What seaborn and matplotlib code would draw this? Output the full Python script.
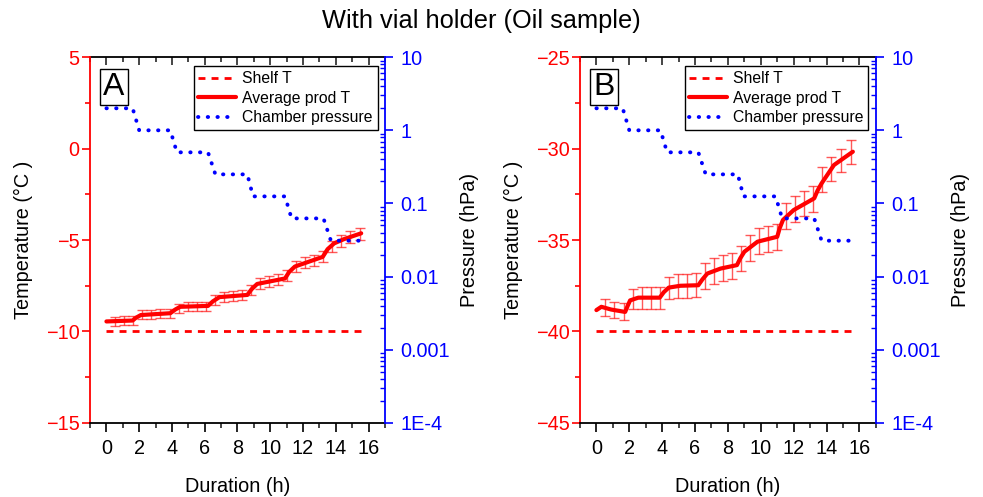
import numpy as np
import pandas as pd
import matplotlib
matplotlib.use("Agg")
import matplotlib.pyplot as plt
import matplotlib.ticker as mticker
import seaborn as sns

# ---- data ----
shelf_t = [0.0, 15.6]
shelf_A = [-10.0, -10.0]
shelf_B = [-40.0, -40.0]

# chamber pressure set points (hPa), same for both runs
press_t = [0.0, 1.6, 2.0, 3.9, 4.3, 6.2, 6.65, 8.6, 8.95, 10.9, 11.3, 13.25, 13.7, 15.6]
press_p = [2.0, 2.0, 1.0, 1.0, 0.5, 0.5, 0.25, 0.25, 0.125, 0.125, 0.0625, 0.0625, 0.031, 0.031]

# average product temperature (line)
prodA_t = [0.0, 1.6, 1.8, 2.1, 3.9, 4.2, 4.5, 6.2, 6.5, 6.9, 8.6, 8.85, 9.2, 10.9, 11.15, 11.5,
           13.2, 13.5, 13.9, 14.5, 15.55]
prodA_T = [-9.45, -9.40, -9.25, -9.10, -9.00, -8.80, -8.65, -8.60, -8.35, -8.12, -8.00, -7.70, -7.40,
           -7.10, -6.75, -6.45, -5.92, -5.50, -5.18, -4.95, -4.63]

prodB_t = [0.0, 0.3, 0.9, 1.75, 1.9, 2.05, 2.55, 3.85, 4.1, 4.4, 5.1, 6.2, 6.45, 6.75, 7.55, 8.55,
           8.75, 9.0, 9.8, 11.0, 11.15, 11.35, 12.0, 13.25, 13.45, 13.7, 14.45, 15.0, 15.6]
prodB_T = [-38.83, -38.65, -38.80, -38.93, -38.60, -38.30, -38.15, -38.15, -37.85, -37.60, -37.50,
           -37.47, -37.15, -36.83, -36.56, -36.37, -36.00, -35.64, -35.09, -34.82, -34.35, -33.90,
           -33.36, -32.72, -32.30, -31.90, -30.90, -30.55, -30.17]

# error bars (mean +- sd) at the sampling points
err_t = [0.55, 1.1, 1.65, 2.2, 2.75, 3.3, 3.85, 4.4, 4.95, 5.5, 6.05, 6.6, 7.15, 7.7,
         8.25, 8.8, 9.35, 9.9, 10.45, 11.0, 11.55, 12.1, 12.65, 13.2, 13.75, 14.3, 14.85, 15.5]
errA_T = [-9.44, -9.42, -9.40, -9.08, -9.05, -9.02, -9.00, -8.72, -8.65, -8.63, -8.61, -8.28,
          -8.10, -8.05, -8.02, -7.75, -7.35, -7.25, -7.15, -6.95, -6.45, -6.25, -6.10, -5.92,
          -5.35, -5.05, -4.85, -4.65]
errA_sd = [0.25, 0.25, 0.25, 0.25, 0.25, 0.25, 0.25, 0.25, 0.25, 0.25, 0.25, 0.28,
           0.28, 0.28, 0.28, 0.28, 0.30, 0.30, 0.30, 0.30, 0.30, 0.30, 0.30, 0.30,
           0.30, 0.32, 0.32, 0.33]
errB_T = [-38.68, -38.82, -38.90, -38.20, -38.15, -38.15, -38.15, -37.60, -37.52, -37.50, -37.47,
          -36.95, -36.70, -36.52, -36.42, -36.00, -35.45, -35.05, -34.95, -34.82, -33.70, -33.30,
          -33.00, -32.75, -31.70, -31.10, -30.65, -30.20]
errB_sd = [0.45, 0.45, 0.45, 0.55, 0.6, 0.6, 0.6, 0.6, 0.65, 0.65, 0.65, 0.7,
           0.7, 0.7, 0.7, 0.7, 0.7, 0.7, 0.7, 0.7, 0.7, 0.7, 0.7, 0.7,
           0.7, 0.65, 0.65, 0.65]

panels = [
    dict(letter="A", ylim=(-15, 5), shelf=shelf_A, pt=prodA_t, pT=prodA_T, eT=errA_T, esd=errA_sd,
         pos=[0.0916, 0.149, 0.300, 0.736]),
    dict(letter="B", ylim=(-45, -25), shelf=shelf_B, pt=prodB_t, pT=prodB_T, eT=errB_T, esd=errB_sd,
         pos=[0.590, 0.149, 0.301, 0.736]),
]

sns.set_theme(style="ticks")
plt.rcParams["font.family"] = ["Liberation Sans", "DejaVu Sans"]
plt.rcParams["font.size"] = 14
plt.rcParams["axes.unicode_minus"] = True
plt.rcParams["text.color"] = "black"
plt.rcParams["axes.labelcolor"] = "black"

fs = 14.3
fig = plt.figure(figsize=(9.83, 4.97), dpi=100)
fig.text(0.4898, 0.958, "With vial holder (Oil sample)", ha="center", va="center", fontsize=18.3,
         color="black")

for p in panels:
    ax = fig.add_axes(p["pos"])
    ax2 = ax.twinx()

    sns.lineplot(x=shelf_t, y=p["shelf"], ax=ax, color="red", lw=2, linestyle=(0, (2.5, 2.2)),
                 label="Shelf T", legend=False)
    ax.errorbar(err_t, p["eT"], yerr=p["esd"], fmt="none", ecolor=(1, 0, 0, 0.65),
                elinewidth=1, capsize=3.5, capthick=1, zorder=2)
    sns.lineplot(x=p["pt"], y=p["pT"], ax=ax, color="red", lw=3, label="Average prod T",
                 legend=False, zorder=3)
    sns.lineplot(x=press_t, y=press_p, ax=ax2, color="blue", lw=2.8,
                 linestyle=(0, (0.1, 2.4)), dash_capstyle="round", label="Chamber pressure",
                 legend=False)

    ax.set_xlim(-1, 17)
    ax.set_ylim(*p["ylim"])
    ax2.set_yscale("log")
    ax2.set_ylim(1e-4, 10)

    ax.xaxis.set_major_locator(mticker.MultipleLocator(2))
    ax.xaxis.set_minor_locator(mticker.MultipleLocator(1))
    ax.yaxis.set_major_locator(mticker.MultipleLocator(5))
    ax.yaxis.set_minor_locator(mticker.MultipleLocator(2.5))
    ax2.set_yticks([1e-4, 1e-3, 1e-2, 1e-1, 1, 10])
    ax2.set_yticklabels(["1E-4", "0.001", "0.01", "0.1", "1", "10"])
    ax2.yaxis.set_minor_locator(mticker.LogLocator(base=10, subs=np.arange(2, 10), numticks=20))
    ax2.yaxis.set_minor_formatter(mticker.NullFormatter())

    ax.tick_params(axis="x", which="major", direction="out", length=6.5, width=1.2, colors="black",
                   labelsize=fs, pad=5)
    ax.tick_params(axis="x", which="minor", direction="out", length=3.5, width=1.2)
    ax.tick_params(axis="y", which="major", direction="out", length=6, width=1.2, colors="red",
                   labelsize=fs, pad=1.5)
    ax.tick_params(axis="y", which="minor", direction="out", length=3.5, width=1.2, colors="red")
    ax2.tick_params(axis="y", which="major", direction="out", length=6, width=1.2, colors="blue",
                    labelsize=fs, pad=5)
    ax2.tick_params(axis="y", which="minor", direction="in", length=3.5, width=1, colors="blue")

    top = ax.secondary_xaxis("top")
    top.xaxis.set_major_locator(mticker.MultipleLocator(2))
    top.xaxis.set_minor_locator(mticker.MultipleLocator(1))
    top.tick_params(which="major", direction="in", length=6, width=1.2, labeltop=False)
    top.tick_params(which="minor", direction="in", length=3.5, width=1.2)
    top.spines["top"].set_linewidth(1.3)
    top.spines["top"].set_color("black")

    for s in ["top", "right"]:
        ax.spines[s].set_visible(False)
    ax.spines["left"].set_color("red")
    ax.spines["bottom"].set_color("black")
    for s in ["left", "top", "bottom"]:
        ax2.spines[s].set_visible(False)
    ax2.spines["right"].set_color("blue")
    for s in ["left", "bottom"]:
        ax.spines[s].set_linewidth(1.3)
    ax2.spines["right"].set_linewidth(1.3)

    ax.set_xlabel("Duration (h)", fontsize=fs, color="black")
    ax.xaxis.set_label_coords(0.5, -0.148)
    ax.set_ylabel("Temperature (°C )", fontsize=fs, color="black")
    ax.yaxis.set_label_coords(-0.193, 0.5)
    ax2.set_ylabel("Pressure (hPa)", fontsize=fs, color="black")
    ax2.yaxis.set_label_coords(1.254, 0.5)

    ax.text(0.045, 0.918, p["letter"], transform=ax.transAxes, fontsize=23, ha="left", va="center",
            color="black", bbox=dict(boxstyle="square,pad=0.1", fc="white", ec="black", lw=1))

    h1, l1 = ax.get_legend_handles_labels()
    h2, l2 = ax2.get_legend_handles_labels()
    leg = ax2.legend(h1 + h2, l1 + l2, loc="upper right", bbox_to_anchor=(0.975, 0.975),
                     fontsize=11.3, frameon=True, fancybox=False, edgecolor="black", framealpha=1,
                     handlelength=2.4, borderpad=0.3, labelspacing=0.3, handletextpad=0.4,
                     borderaxespad=0.0, labelcolor="black")
    leg.get_frame().set_linewidth(1)

fig.savefig("out.png", dpi=100)
